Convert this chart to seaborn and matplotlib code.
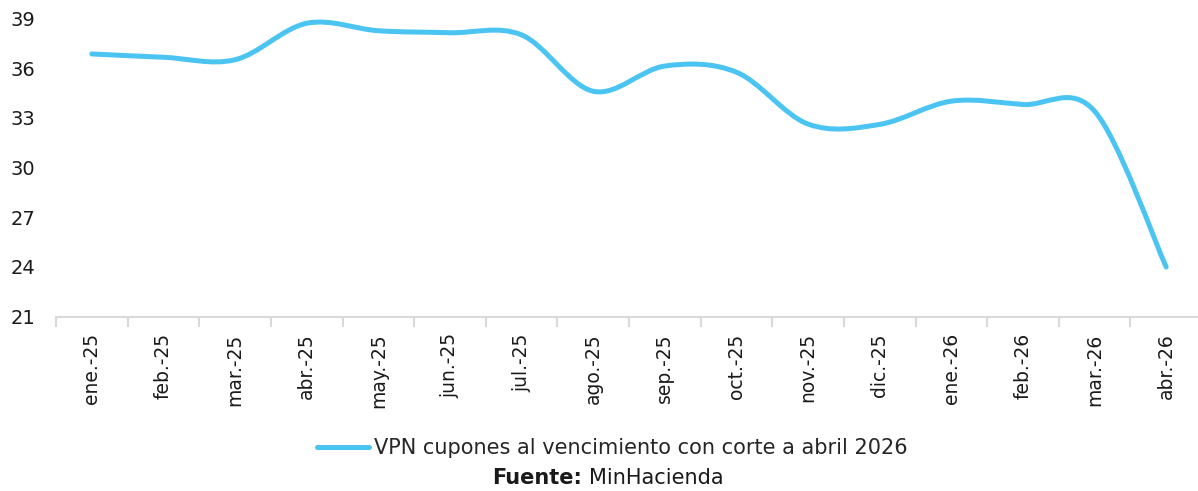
import numpy as np
import matplotlib
matplotlib.use("Agg")
import matplotlib.pyplot as plt
from matplotlib.path import Path
from matplotlib.patches import PathPatch
from matplotlib.lines import Line2D
from matplotlib.ticker import FixedLocator
import seaborn as sns

months = ["ene.-25", "feb.-25", "mar.-25", "abr.-25", "may.-25", "jun.-25",
          "jul.-25", "ago.-25", "sep.-25", "oct.-25", "nov.-25", "dic.-25",
          "ene.-26", "feb.-26", "mar.-26", "abr.-26"]
vpn = [36.85, 36.65, 36.5, 38.7, 38.25, 38.13, 38.0, 34.6, 36.12, 35.75,
       32.62, 32.6, 34.0, 33.8, 33.4, 24.0]
yticks = [21, 24, 27, 30, 33, 36, 39]

series_name = "VPN cupones al vencimiento con corte a abril 2026"
line_color = "#4BC4F2"
axis_color = "#D9D9D9"


def smooth_path(xs, ys):
    # Excel style smoothed line: cubic bezier, control points at 1/6 of neighbour diffs
    pts = np.column_stack([xs, ys]).astype(float)
    n = len(pts)
    verts = [pts[0]]
    codes = [Path.MOVETO]
    for i in range(n - 1):
        p0 = pts[i - 1] if i > 0 else pts[i]
        p1 = pts[i]
        p2 = pts[i + 1]
        p3 = pts[i + 2] if i + 2 < n else pts[i + 1]
        c1 = p1 + (p2 - p0) / 6.0
        c2 = p2 - (p3 - p1) / 6.0
        verts += [c1, c2, p2]
        codes += [Path.CURVE4] * 3
    return Path(verts, codes)


sns.set_theme(style="white")
plt.rcParams["font.family"] = ["DejaVu Sans"]

fig = plt.figure(figsize=(11.98, 4.91), dpi=100)
ax = fig.add_axes([56 / 1198, 1 - 316.7 / 491, 1146 / 1198, (316.7 - 18.3) / 491])

pos = np.arange(len(months))
patch = PathPatch(smooth_path(pos, vpn), facecolor="none", edgecolor=line_color,
                  lw=3.6, capstyle="round", joinstyle="round", clip_on=False)
ax.add_patch(patch)

ax.set_xlim(-0.5, len(months) - 0.5)
ax.set_ylim(21, 39)
ax.set_yticks(yticks)
ax.set_yticklabels([str(t) for t in yticks], fontsize=14, color="#1a1a1a")
ax.set_xticks(pos)
ax.set_xticklabels(months, rotation=90, fontsize=13.5, color="#1a1a1a")
ax.xaxis.set_minor_locator(FixedLocator(np.arange(-0.5, len(months), 1.0)))
ax.tick_params(axis="x", which="major", bottom=True, length=0, pad=12)
ax.tick_params(axis="x", which="minor", bottom=True, length=7, width=1.5,
               color=axis_color, direction="out")
ax.tick_params(axis="y", left=False, length=0, pad=15)

for side in ["left", "right", "top"]:
    ax.spines[side].set_visible(False)
ax.spines["bottom"].set_color(axis_color)
ax.spines["bottom"].set_linewidth(1.5)
ax.grid(False)

handle = Line2D([], [], color=line_color, lw=3.6, solid_capstyle="round")
fig.legend([handle], [series_name], loc="center", bbox_to_anchor=(612 / 1198, 1 - 448 / 491),
           frameon=False, fontsize=15, handlelength=2.5, handletextpad=0.25)

fig.text(582 / 1198, 1 - 478 / 491, "Fuente:", ha="right", va="center",
         fontsize=15, fontweight="bold", color="#1a1a1a")
fig.text(589 / 1198, 1 - 478 / 491, "MinHacienda", ha="left", va="center",
         fontsize=15, color="#1a1a1a")

fig.savefig("out.png", dpi=100)
